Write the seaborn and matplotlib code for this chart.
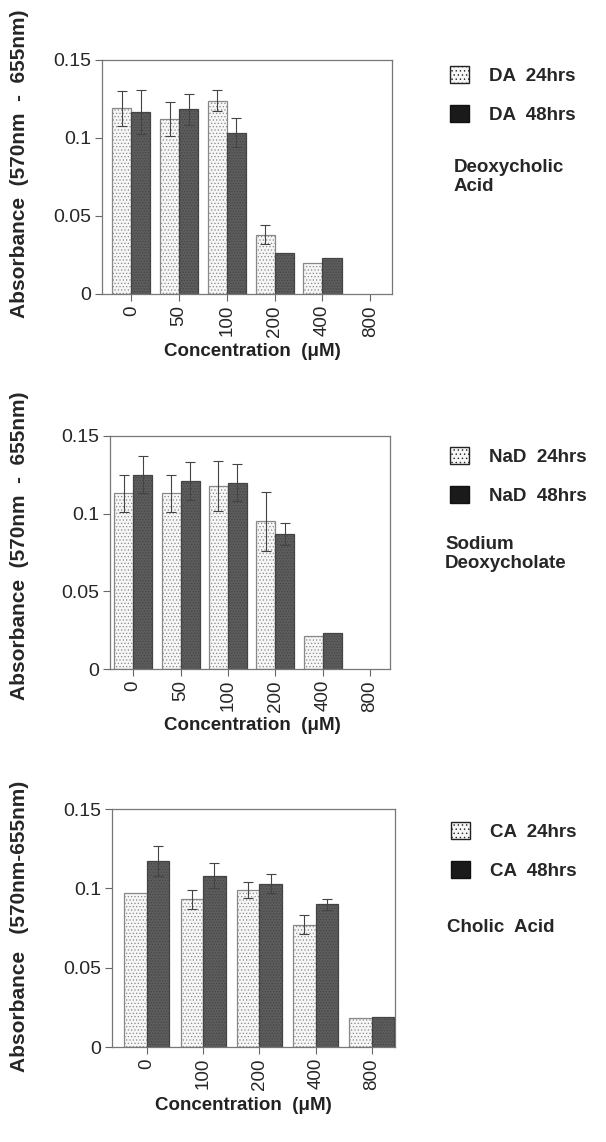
import matplotlib
matplotlib.use("Agg")
import matplotlib.pyplot as plt
from matplotlib.patches import Patch
import numpy as np
import pandas as pd
import seaborn as sns

# --- data ---
DA_CONC = ["0", "50", "100", "200", "400", "800"]
DA_24 = [0.119, 0.112, 0.124, 0.038, 0.020, np.nan]
DA_24_ERR = [0.011, 0.011, 0.007, 0.006, 0.0, np.nan]
DA_48 = [0.1165, 0.1185, 0.1035, 0.0265, 0.023, np.nan]
DA_48_ERR = [0.014, 0.010, 0.0095, 0.0, 0.0, np.nan]

NAD_CONC = ["0", "50", "100", "200", "400", "800"]
NAD_24 = [0.113, 0.113, 0.118, 0.095, 0.021, np.nan]
NAD_24_ERR = [0.012, 0.012, 0.016, 0.019, 0.0, np.nan]
NAD_48 = [0.125, 0.121, 0.120, 0.087, 0.023, np.nan]
NAD_48_ERR = [0.012, 0.012, 0.012, 0.007, 0.0, np.nan]

CA_CONC = ["0", "100", "200", "400", "800"]
CA_24 = [0.097, 0.093, 0.099, 0.077, 0.018]
CA_24_ERR = [0.0, 0.006, 0.005, 0.006, 0.0]
CA_48 = [0.117, 0.108, 0.103, 0.090, 0.019]
CA_48_ERR = [0.0095, 0.008, 0.006, 0.0035, 0.0]

Y_TICKS = [0, 0.05, 0.1, 0.15]
Y_TICK_LABELS = ["0", "0.05", "0.1", "0.15"]

W, H = 606, 1142
LIGHT = "#f6f6f6"
DARK = "#5c5c5c"
FONT = ["Liberation Sans", "DejaVu Sans"]


def fx(px):
    return px / W


def fy(px):
    return 1 - px / H


def draw_panel(fig, box, conc, v24, e24, v48, e48, xlim, tags, name,
               ylabel, ylabel_xy, xlabel_xy, legend_xy, name_xy):
    left, top, right, bottom = box
    ax = fig.add_axes([fx(left), fy(bottom), fx(right - left), (bottom - top) / H])

    n = len(conc)
    df = pd.DataFrame({
        "conc": conc * 2,
        "time": [tags[0]] * n + [tags[1]] * n,
        "absorbance": list(v24) + list(v48),
    })
    sns.barplot(data=df, x="conc", y="absorbance", hue="time", order=conc,
                hue_order=tags, palette=[LIGHT, DARK], width=0.8,
                errorbar=None, legend=False, ax=ax, saturation=1)

    styles = [("#888888", "....."), ("#444444", "......")]
    for cont, vals, errs, (ec, hatch) in zip(ax.containers, [v24, v48], [e24, e48], styles):
        valid = [(v, e) for v, e in zip(vals, errs) if not np.isnan(v)]
        for patch, (v, e) in zip(cont.patches, valid):
            patch.set_edgecolor(ec)
            patch.set_linewidth(0.9)
            patch.set_hatch(hatch)
            if e > 0:
                ax.errorbar(patch.get_x() + patch.get_width() / 2, patch.get_height(),
                            yerr=e, fmt="none", ecolor="#444444", elinewidth=0.8,
                            capsize=3.5, capthick=0.8)

    ax.set_xlim(*xlim)
    ax.set_ylim(0, 0.15)
    ax.set_yticks(Y_TICKS)
    ax.set_yticklabels(Y_TICK_LABELS, fontsize=14, family=FONT)
    ax.set_xticks(range(n))
    ax.set_xticklabels(conc, rotation=90, fontsize=13.5, family=FONT)
    ax.tick_params(axis="both", direction="out", length=5, width=0.8, color="#666666", pad=3)
    ax.set_xlabel("")
    ax.set_ylabel("")
    for sp in ax.spines.values():
        sp.set_visible(True)
        sp.set_color("#777777")
        sp.set_linewidth(0.9)

    fig.text(fx(ylabel_xy[0]), fy(ylabel_xy[1]), ylabel, rotation=90,
             ha="center", va="center", fontsize=15, fontweight="bold", family=FONT)
    fig.text(fx(xlabel_xy[0]), fy(xlabel_xy[1]), "Concentration  (\u03bcM)",
             ha="center", va="center", fontsize=13.5, fontweight="bold", family=FONT,
             color="#222222")

    handles = [
        Patch(facecolor=LIGHT, edgecolor="#222222", hatch="....", linewidth=1.0),
        Patch(facecolor="#1a1a1a", edgecolor="#111111", linewidth=1.0),
    ]
    fig.legend(handles, tags, loc="upper left",
               bbox_to_anchor=(fx(legend_xy[0]), fy(legend_xy[1])),
               frameon=False, borderpad=0, borderaxespad=0, handlelength=1.0,
               handleheight=1.0, handletextpad=1.1, labelspacing=1.1,
               prop={"family": FONT, "weight": "bold", "size": 13.5})
    fig.text(fx(name_xy[0]), fy(name_xy[1]), name, ha="left", va="center",
             fontsize=13.5, fontweight="bold", family=FONT, linespacing=1.2)
    return ax


def main():
    sns.set_theme(style="ticks")
    plt.rcParams["font.family"] = FONT
    plt.rcParams["hatch.linewidth"] = 0.5

    fig = plt.figure(figsize=(W / 100, H / 100), dpi=100)

    draw_panel(fig, (102, 60, 392, 294), DA_CONC, DA_24, DA_24_ERR, DA_48, DA_48_ERR,
               (-0.615, 5.455), ["DA  24hrs", "DA  48hrs"], "Deoxycholic\nAcid",
               "Absorbance  (570nm  -  655nm)", (20, 164), (252, 352),
               (450, 66), (454, 177))

    draw_panel(fig, (110, 436, 390, 669), NAD_CONC, NAD_24, NAD_24_ERR, NAD_48, NAD_48_ERR,
               (-0.49, 5.42), ["NaD  24hrs", "NaD  48hrs"], "Sodium\nDeoxycholate",
               "Absorbance  (570nm  -  655nm)", (20, 546), (252, 725),
               (450, 447), (445, 554))

    draw_panel(fig, (112, 809, 395, 1047), CA_CONC, CA_24, CA_24_ERR, CA_48, CA_48_ERR,
               (-0.62, 4.41), ["CA  24hrs", "CA  48hrs"], "Cholic  Acid",
               "Absorbance   (570nm-655nm)", (20, 926), (243, 1105),
               (451, 822), (447, 928))

    fig.savefig("out.png", dpi=100, facecolor="white")
    plt.close(fig)


if __name__ == "__main__":
    main()
